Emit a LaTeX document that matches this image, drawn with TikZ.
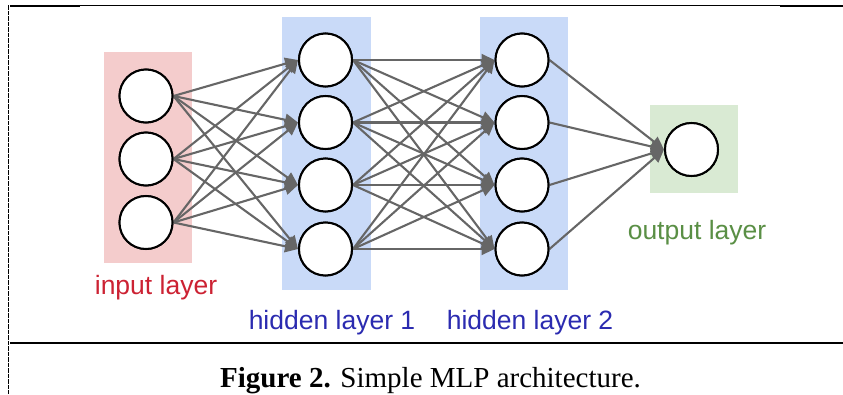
\documentclass[tikz,border=0pt]{standalone}
\usepackage{fontspec}
\setmainfont{Liberation Serif}
\newfontfamily\labelfont{Liberation Sans}
\usetikzlibrary{arrows.meta}
\definecolor{inbg}{HTML}{F4CCCC}
\definecolor{hidbg}{HTML}{C9DAF8}
\definecolor{outbg}{HTML}{D9EAD3}
\definecolor{intext}{HTML}{CC2233}
\definecolor{hidtext}{HTML}{2B2BB0}
\definecolor{outtext}{HTML}{5A8F45}
\definecolor{edgegray}{HTML}{666666}
\begin{document}
\begin{tikzpicture}[x=1pt,y=-1pt,
  neuron/.style={circle,draw=black,line width=2pt,fill=white,minimum size=53pt,inner sep=0pt},
  conn/.style={draw=edgegray,line width=2.1pt,-{Triangle[length=13pt,width=12pt]}},
  lbl/.style={font=\labelfont\fontsize{26.5}{30}\selectfont,inner sep=0pt},
  thinrule/.style={line width=1.2pt},
  thickrule/.style={line width=2.4pt}]
\useasboundingbox (0,0) rectangle (843,394);
% frame
\draw[thinrule] (80,5.5) -- (780,5.5);
\draw[thickrule] (10,5.7) -- (80,5.7);
\draw[thickrule] (780,5.7) -- (843,5.7);
\draw[thinrule] (80,343) -- (780,343);
\draw[thickrule] (10,343) -- (80,343);
\draw[thickrule] (780,343) -- (843,343);
\draw[line width=1.6pt,dash pattern=on 4.5pt off 1pt] (8.5,5) -- (8.5,394);
% layer backgrounds
\fill[inbg] (104,52) rectangle (192,263);
\fill[hidbg] (282,17) rectangle (371,290);
\fill[hidbg] (480,17) rectangle (568,290);
\fill[outbg] (650,105) rectangle (738,193);
% neurons
\node[neuron] (i1) at (146,96) {};
\node[neuron] (i2) at (146,159) {};
\node[neuron] (i3) at (146,222.5) {};
\node[neuron] (a1) at (325.5,60) {};
\node[neuron] (a2) at (325.5,122.5) {};
\node[neuron] (a3) at (325.5,185) {};
\node[neuron] (a4) at (325.5,249) {};
\node[neuron] (b1) at (522,60) {};
\node[neuron] (b2) at (522,122.5) {};
\node[neuron] (b3) at (522,185) {};
\node[neuron] (b4) at (522,249) {};
\node[neuron] (o1) at (691.5,149.5) {};
% connections
\foreach \s in {1,2,3}{\foreach \t in {1,2,3,4}{\draw[conn] (i\s.east) -- (a\t.west);}}
\foreach \s in {1,2,3,4}{\foreach \t in {1,2,3,4}{\draw[conn] (a\s.east) -- (b\t.west);}}
\foreach \s in {1,2,3,4}{\draw[conn] (b\s.east) -- (o1.west);}
% redraw neurons on top
\foreach \n in {i1,i2,i3,a1,a2,a3,a4,b1,b2,b3,b4,o1}{\draw[black,line width=2pt,fill=white] (\n.center) circle (26.5pt);}
% labels
\node[lbl,text=intext] (lin) at (156,288) {input layer};
\node[lbl,text=hidtext] (lh1) at (332,323) {hidden layer 1};
\node[lbl,text=hidtext] (lh2) at (530,323) {hidden layer 2};
\node[lbl,text=outtext] (lout) at (697,233) {output layer};
% caption
\node[anchor=base,inner sep=0pt,font=\fontsize{29}{33}\selectfont] (cap) at (430.5,387) {\textbf{Figure 2.} Simple MLP architecture.};
\end{tikzpicture}
\end{document}
